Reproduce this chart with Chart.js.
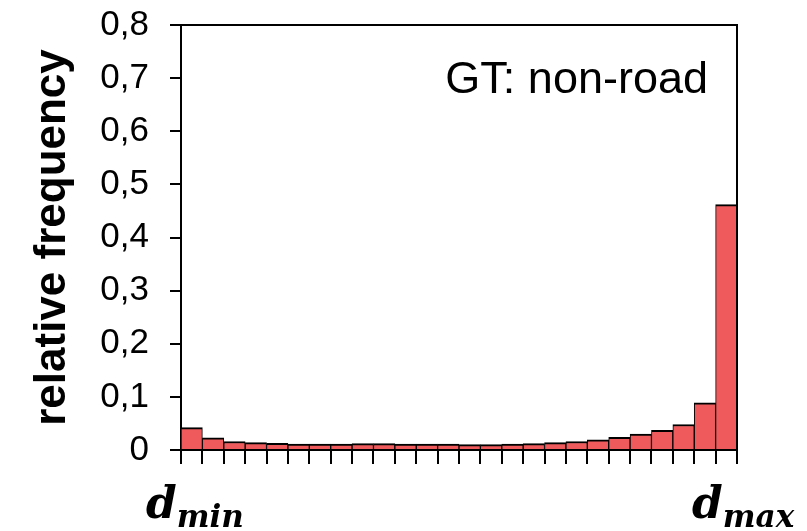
<!DOCTYPE html>
<html>
<head>
<meta charset="utf-8">
<script src="https://cdn.jsdelivr.net/npm/chart.js@4/dist/chart.umd.min.js"></script>
<style>
  html, body { margin: 0; padding: 0; background: #fff; }
  #wrap { width: 807px; height: 531px; }
</style>
</head>
<body>
<div id="wrap"><canvas id="histChart" width="807" height="531"></canvas></div>
<script>
// histogram bins between d_min and d_max
const bins = ['1', '2', '3', '4', '5', '6', '7', '8', '9', '10', '11', '12', '13',
              '14', '15', '16', '17', '18', '19', '20', '21', '22', '23', '24', '25', '26'];
// relative frequency per bin
const freq = [0.042, 0.023, 0.016, 0.014, 0.0125, 0.011, 0.011, 0.011, 0.012, 0.012, 0.011, 0.011, 0.011,
              0.010, 0.010, 0.011, 0.012, 0.014, 0.016, 0.019, 0.024, 0.030, 0.037, 0.048, 0.089, 0.462];
const yTicks = [0, 0.1, 0.2, 0.3, 0.4, 0.5, 0.6, 0.7, 0.8];
const yTitle = 'relative frequency';
const boxLabel = 'GT: non-road';
const xEnds = [['d', 'min'], ['d', 'max']];

// frame on top/right + annotation texts
const extras = {
    id: 'extras',
    afterDraw(chart) {
        const { ctx, chartArea } = chart;
        ctx.save();
        ctx.strokeStyle = '#000';
        ctx.lineWidth = 2;
        ctx.beginPath();
        ctx.moveTo(chartArea.left, chartArea.top);
        ctx.lineTo(chartArea.right, chartArea.top);
        ctx.lineTo(chartArea.right, chartArea.bottom);
        ctx.stroke();

        ctx.fillStyle = '#000';
        ctx.font = '45px "Liberation Sans", Arial, sans-serif';
        ctx.textAlign = 'right';
        ctx.textBaseline = 'alphabetic';
        ctx.fillText(boxLabel, chartArea.right - 29, 93);

        // d_min under first bin, d_max under last bin
        const xs = [146, 692];
        ctx.textAlign = 'left';
        xEnds.forEach((lbl, i) => {
            ctx.font = 'bold italic 44px "DejaVu Serif", serif';
            ctx.fillText(lbl[0], xs[i], 518);
            const w = ctx.measureText(lbl[0]).width;
            ctx.font = 'bold italic 31px "DejaVu Serif", serif';
            ctx.fillText(lbl[1], xs[i] + w, 527);
        });
        ctx.restore();
    }
};

const ctx = document.getElementById('histChart').getContext('2d');
const histChart = new Chart(ctx, {
    type: 'bar',
    data: {
        labels: bins,
        datasets: [{
            data: freq,
            backgroundColor: '#ef5b5c',
            borderColor: '#000',
            borderWidth: { top: 2, left: 1, right: 1, bottom: 0 },
            borderSkipped: false,
            categoryPercentage: 1.0,
            barPercentage: 1.0
        }]
    },
    options: {
        responsive: false,
        animation: false,
        events: [],
        layout: { padding: { top: 25, right: 70, bottom: 67, left: 0 } },
        plugins: { legend: { display: false }, tooltip: { enabled: false } },
        scales: {
            x: {
                grid: { offset: true, drawOnChartArea: false, tickLength: 14, color: '#000', lineWidth: 2 },
                border: { color: '#000', width: 2 },
                ticks: { display: false }
            },
            y: {
                min: 0,
                max: 0.8,
                afterFit(scale) {
                    scale.width = 181;
                    scale.paddingTop = 0;
                    scale.paddingBottom = 0;
                },
                afterBuildTicks(scale) { scale.ticks = yTicks.map(v => ({ value: v })); },
                grid: { drawOnChartArea: false, tickLength: 11, color: '#000', lineWidth: 2 },
                border: { color: '#000', width: 2 },
                ticks: {
                    color: '#000',
                    padding: 21,
                    font: { family: '"Liberation Sans", Arial, sans-serif', size: 35 },
                    callback: v => v === 0 ? '0' : v.toFixed(1).replace('.', ',')
                },
                title: {
                    display: true,
                    text: yTitle,
                    color: '#000',
                    padding: { top: 26, bottom: 0 },
                    font: { family: '"Liberation Sans", Arial, sans-serif', size: 44, weight: 'bold' }
                }
            }
        }
    },
    plugins: [extras]
});
</script>
</body>
</html>
